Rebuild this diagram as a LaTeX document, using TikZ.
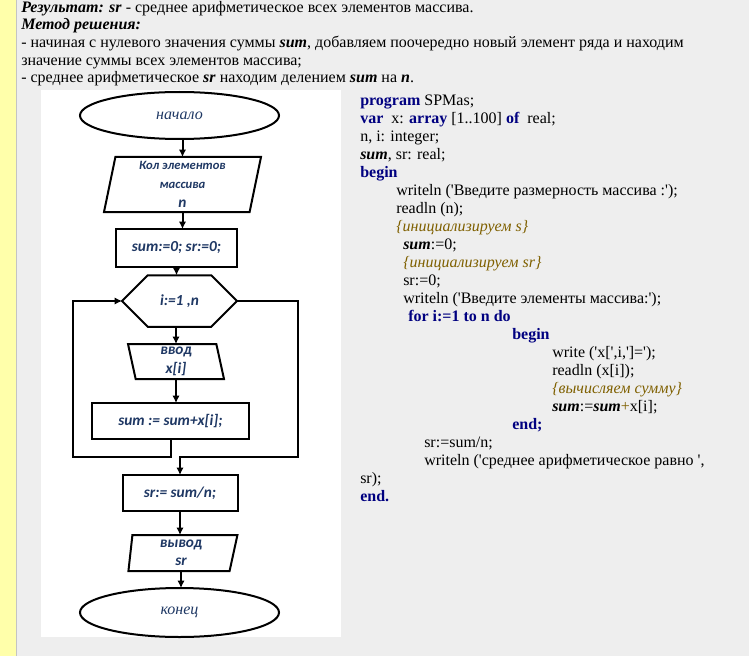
\documentclass[tikz,border=0pt]{standalone}
\usepackage{fontspec}
\setmainfont{Liberation Serif}
\newfontfamily\codefont{Liberation Serif}
\newfontfamily\boxfont{Carlito}
\usetikzlibrary{shapes.geometric,shapes.misc,arrows.meta}

\definecolor{pagegray}{HTML}{EEEEEE}
\definecolor{stripyellow}{HTML}{FFFFAA}
\definecolor{stripline}{HTML}{C4C4C4}
\definecolor{boxblue}{HTML}{1F3864}
\definecolor{kwblue}{HTML}{000080}
\definecolor{cmtbrown}{HTML}{7F6000}

\newcommand{\kw}[1]{\textbf{\textcolor{kwblue}{#1}}}
\newcommand{\cmt}[1]{\textit{\textcolor{cmtbrown}{#1}}}
\newcommand{\bi}[1]{\textbf{\textit{#1}}}

\tikzset{
  blk/.style={draw,line width=1.5pt,outer sep=0pt,inner sep=1pt,align=center,
    text=boxblue,font=\boxfont\bfseries\itshape\fontsize{11.5}{14}\selectfont},
  term/.style={blk,ellipse,font=\itshape\fontsize{12}{14}\selectfont,
    minimum width=149.25pt,minimum height=35.25pt},
  proc/.style={blk,rectangle},
  io/.style={blk,trapezium,trapezium stretches body},
  loophead/.style={blk,chamfered rectangle,chamfered rectangle xsep=6.75pt,
    chamfered rectangle ysep=13.5pt},
  arr/.style={-{Latex[length=5.5pt,width=5.5pt]},line width=1.5pt}
}

\begin{document}
\begin{tikzpicture}[x=0.75pt,y=-0.75pt]
\useasboundingbox (0,0) rectangle (749,656);
% page
\fill[pagegray] (0,0) rectangle (749,656);
\fill[stripyellow] (0,0) rectangle (16,656);
\draw[stripline,line width=0.75pt] (16.5,0) -- (16.5,656);
\fill[white] (41,90) rectangle (341,637);

% task text (base = last line)
\node[anchor=base west,align=left,inner sep=0pt,font=\fontsize{12}{13.3}\selectfont] (task) at (21,83) {%
\bi{Результат: sr} - среднее арифметическое всех элементов массива.\\
\bi{Метод решения:}\\
- начиная с нулевого значения суммы \bi{sum}, добавляем поочередно новый элемент ряда и находим\\
значение суммы всех элементов массива;\\
- среднее арифметическое \bi{sr} находим делением \bi{sum} на \bi{n}.};

% flowchart
\node[term] (start) at (179.5,115.5) {начало};
\node[io,trapezium left angle=76.7,trapezium right angle=103.3,
  minimum width=117.75pt,minimum height=41.25pt] (inp) at (182.5,184.5)
  {{\fontsize{9.5}{12.4}\selectfont Кол элементов}\\{\fontsize{9.5}{12.4}\selectfont массива}\\n};
\node[proc,minimum width=90.75pt,minimum height=28.5pt] (init) at (176.5,248) {sum:=0; sr:=0;};
\node[loophead,minimum width=86.25pt,minimum height=27pt] (loop) at (179.5,301) {i:=1 ,n};
\node[io,trapezium left angle=103.7,trapezium right angle=76.3,
  minimum width=72pt,minimum height=26.25pt,font=\boxfont\bfseries\itshape\fontsize{11.5}{14.25}\selectfont]
  (rd) at (176,361.5) {ввод\\x[i]};
\node[proc,minimum width=117.75pt,minimum height=27pt] (acc) at (170.5,421) {sum := sum+x[i];};
\node[proc,minimum width=86.25pt,minimum height=27pt] (avg) at (180,493) {sr:= sum/n;};
\node[io,trapezium left angle=82,trapezium right angle=105.5,
  minimum width=81.75pt,minimum height=27pt,font=\boxfont\bfseries\itshape\fontsize{11.5}{13.5}\selectfont]
  (out) at (181,553) {вывод\\sr};
\node[term,minimum height=36.75pt] (stop) at (179.5,612.5) {конец};

\coordinate (back) at (73,457);
\coordinate (exit) at (298,457);

\draw[arr] (start.south -| inp.north) -- (inp.north);
\draw[arr] (inp.south) -- (inp.south |- init.north);
\draw[arr] (init.south) -- (init.south |- loop.north);
\draw[arr] (loop.south -| rd.north) -- (rd.north);
\draw[arr] (rd.south) -- (rd.south |- acc.north);
\draw[arr] (acc.south) |- (back) |- (loop.west);
\draw[arr] (loop.east) -| (exit) -| (avg.north);
\draw[arr] (avg.south) -- (avg.south |- out.north);
\draw[arr] (out.south) -- (out.south |- stop.north);

% program text (base = last line)
\node[anchor=base west,align=left,inner sep=0pt,font=\codefont\fontsize{12}{13.5}\selectfont] (code) at (360,501) {%
\kw{program} SPMas;\\
\kw{var}~ x: \kw{array} [1..100] \kw{of}~ real;\\
n, i: integer;\\
\bi{sum}, sr: real;\\
\kw{begin}\\
\hspace*{27pt}writeln ('Введите размерность массива :');\\
\hspace*{27pt}readln (n);\\
\hspace*{27pt}\cmt{\{инициализируем s\}}\\
\hspace*{32.25pt}\bi{sum}:=0;\\
\hspace*{32.25pt}\cmt{\{инициализируем sr\}}\\
\hspace*{32.25pt}sr:=0;\\
\hspace*{32.25pt}writeln ('Введите элементы массива:');\\
\hspace*{36pt}\kw{for i:=1 to n do}\\
\hspace*{114pt}\kw{begin}\\
\hspace*{144pt}write ('x[',i,']=');\\
\hspace*{144pt}readln (x[i]);\\
\hspace*{144pt}\cmt{\{вычисляем сумму\}}\\
\hspace*{144pt}\bi{sum}:=\bi{sum}\textcolor{cmtbrown}{+}x[i];\\
\hspace*{114pt}\kw{end;}\\
\hspace*{48pt}sr:=sum/n;\\
\hspace*{48pt}writeln ('среднее арифметическое равно ',\\
sr);\\
\kw{end.}};
\end{tikzpicture}
\end{document}
